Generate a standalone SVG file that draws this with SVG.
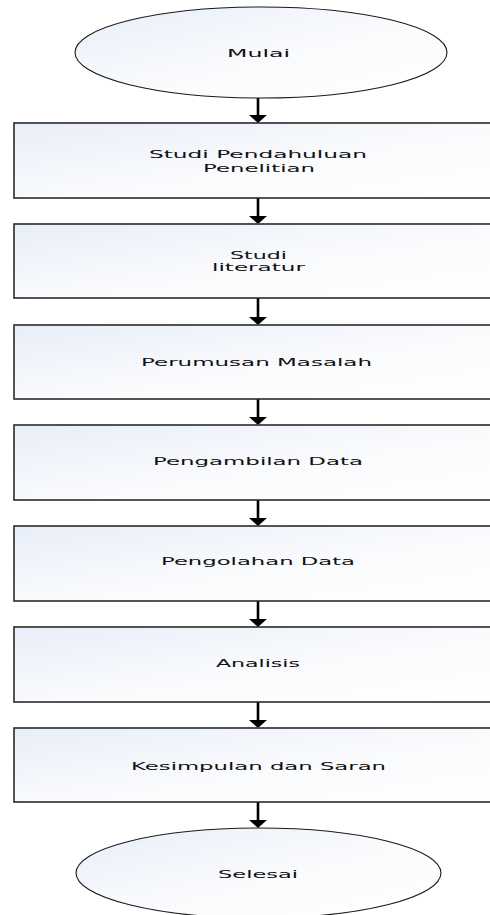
<svg xmlns="http://www.w3.org/2000/svg" width="490" height="915" viewBox="0 0 490 915">
<style>
.box{fill:url(#g);stroke:#2b2b2b;stroke-width:1.6}
.term{fill:url(#g);stroke:#1a1a1a;stroke-width:1.1}
.lbl{font-family:"DejaVu Sans",sans-serif;font-size:10.5px;fill:#111;text-anchor:middle}
.con{stroke:#000;stroke-width:2.6;fill:none}
.head{fill:#000}
</style>
<defs>
<linearGradient id="g" x1="0" y1="0" x2="1" y2="1">
<stop offset="0" stop-color="#e8eef8"/>
<stop offset="0.55" stop-color="#fafbfd"/>
<stop offset="1" stop-color="#ffffff"/>
</linearGradient>
</defs>
<rect width="490" height="915" fill="#fff"/>
<g id="connectors">
<line class="con" x1="258" y1="98" x2="258" y2="116"/><polygon class="head" points="249,115 267,115 258,123"/>
<line class="con" x1="258" y1="198" x2="258" y2="217"/><polygon class="head" points="249,216 267,216 258,224"/>
<line class="con" x1="258" y1="298" x2="258" y2="318"/><polygon class="head" points="249,317 267,317 258,325"/>
<line class="con" x1="258" y1="399" x2="258" y2="418"/><polygon class="head" points="249,417 267,417 258,425"/>
<line class="con" x1="258" y1="500" x2="258" y2="519"/><polygon class="head" points="249,518 267,518 258,526"/>
<line class="con" x1="258" y1="601" x2="258" y2="620"/><polygon class="head" points="249,619 267,619 258,627"/>
<line class="con" x1="258" y1="702" x2="258" y2="721"/><polygon class="head" points="249,720 267,720 258,728"/>
<line class="con" x1="258" y1="802" x2="258" y2="821"/><polygon class="head" points="249,820 267,820 258,828"/>
</g>
<g id="mulai">
<ellipse class="term" cx="261" cy="52.5" rx="186" ry="45.5"/>
<text class="lbl" x="258.5" y="57" textLength="63" lengthAdjust="spacingAndGlyphs">Mulai</text>
</g>
<g id="studi-pendahuluan">
<rect class="box" x="14" y="123" width="490" height="75"/>
<text class="lbl" x="258" y="158" textLength="218" lengthAdjust="spacingAndGlyphs">Studi Pendahuluan</text>
<text class="lbl" x="259" y="172" textLength="112" lengthAdjust="spacingAndGlyphs">Penelitian</text>
</g>
<g id="studi-literatur">
<rect class="box" x="14" y="224" width="490" height="74"/>
<text class="lbl" x="258.5" y="259" textLength="57" lengthAdjust="spacingAndGlyphs">Studi</text>
<text class="lbl" x="258.5" y="271" textLength="93" lengthAdjust="spacingAndGlyphs">literatur</text>
</g>
<g id="perumusan">
<rect class="box" x="14" y="325" width="490" height="74"/>
<text class="lbl" x="256.5" y="366" textLength="231" lengthAdjust="spacingAndGlyphs">Perumusan Masalah</text>
</g>
<g id="pengambilan">
<rect class="box" x="14" y="425" width="490" height="75"/>
<text class="lbl" x="258" y="465" textLength="210" lengthAdjust="spacingAndGlyphs">Pengambilan Data</text>
</g>
<g id="pengolahan">
<rect class="box" x="14" y="526" width="490" height="75"/>
<text class="lbl" x="258" y="565" textLength="194" lengthAdjust="spacingAndGlyphs">Pengolahan Data</text>
</g>
<g id="analisis">
<rect class="box" x="14" y="627" width="490" height="75"/>
<text class="lbl" x="258" y="667" textLength="84" lengthAdjust="spacingAndGlyphs">Analisis</text>
</g>
<g id="kesimpulan">
<rect class="box" x="14" y="728" width="490" height="74"/>
<text class="lbl" x="258.5" y="770" textLength="255" lengthAdjust="spacingAndGlyphs">Kesimpulan dan Saran</text>
</g>
<g id="selesai">
<ellipse class="term" cx="258.5" cy="873" rx="182.5" ry="45"/>
<text class="lbl" x="258" y="878" textLength="80" lengthAdjust="spacingAndGlyphs">Selesai</text>
</g>
</svg>
